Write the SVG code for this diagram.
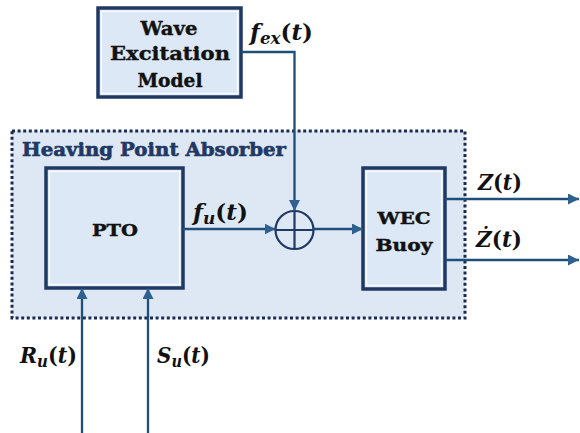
<svg xmlns="http://www.w3.org/2000/svg" width="580" height="433" viewBox="0 0 580 433">
<style>
.box{fill:#dce8f5;stroke:#1f3864;stroke-width:3.5}
.inner{fill:none;stroke:#ffffff;stroke-width:1.2}
.lbl{font-family:"DejaVu Serif",serif;font-weight:bold;fill:#111;stroke:#111;stroke-width:0.4;text-anchor:middle}
.math{font-family:"DejaVu Serif",serif;font-weight:bold;font-size:22px;fill:#111}
.wire{fill:none;stroke:#1f4e79;stroke-width:2.3}
</style>
<defs>
<marker id="ah" viewBox="0 0 10 10" refX="10" refY="5" markerWidth="11" markerHeight="11" markerUnits="userSpaceOnUse" orient="auto">
<path d="M0,0 L10,5 L0,10 z" fill="#2e6090"/>
</marker>
</defs>
<rect width="580" height="433" fill="#ffffff"/>
<g id="absorber">
<rect x="12" y="131" width="453" height="187" fill="#dde8f4" stroke="#1a2a55" stroke-width="3" stroke-dasharray="3 2.6"/>
<text x="22" y="156" font-family="DejaVu Serif,serif" font-weight="bold" font-size="18" fill="#1f3864" stroke="#1f3864" stroke-width="0.6" textLength="264" lengthAdjust="spacingAndGlyphs">Heaving Point Absorber</text>
</g>
<g id="wave">
<rect class="box" x="98" y="8" width="143" height="89"/>
<rect class="inner" x="101.5" y="11.5" width="136" height="82"/>
<text class="lbl" x="169" y="35" font-size="18" textLength="57" lengthAdjust="spacingAndGlyphs">Wave</text>
<text class="lbl" x="170" y="60" font-size="18" textLength="120" lengthAdjust="spacingAndGlyphs">Excitation</text>
<text class="lbl" x="170" y="87" font-size="18" textLength="65" lengthAdjust="spacingAndGlyphs">Model</text>
</g>
<g id="pto">
<rect class="box" x="46" y="168" width="137" height="120"/>
<rect class="inner" x="49.5" y="171.5" width="130" height="113"/>
<text class="lbl" x="115" y="236" font-size="16" textLength="46" lengthAdjust="spacingAndGlyphs">PTO</text>
</g>
<g id="wec">
<rect class="box" x="363" y="168" width="82" height="121"/>
<rect class="inner" x="366.5" y="171.5" width="75" height="114"/>
<text class="lbl" x="404" y="224" font-size="16" textLength="53" lengthAdjust="spacingAndGlyphs">WEC</text>
<text class="lbl" x="404" y="251" font-size="16" textLength="57" lengthAdjust="spacingAndGlyphs">Buoy</text>
</g>
<g id="sum">
<circle cx="294.5" cy="230" r="19" fill="none" stroke="#1f3864" stroke-width="2.2"/>
<path d="M294.5,211 V249 M275.5,230 H313.5" stroke="#1f3864" stroke-width="2.2"/>
</g>
<g id="connectors">
<path class="wire" d="M241,52 H294.5 V211" marker-end="url(#ah)"/>
<path class="wire" d="M183,229 H275.5" marker-end="url(#ah)"/>
<path class="wire" d="M313.5,229 H363" marker-end="url(#ah)"/>
<path class="wire" d="M445,199 H579" marker-end="url(#ah)"/>
<path class="wire" d="M445,260 H579" marker-end="url(#ah)"/>
<path class="wire" d="M82,433 V288" marker-end="url(#ah)"/>
<path class="wire" d="M148,433 V288" marker-end="url(#ah)"/>
</g>
<g id="labels">
<text class="math" x="250" y="40" textLength="63" lengthAdjust="spacingAndGlyphs"><tspan font-style="italic">f</tspan><tspan font-style="italic" font-size="16" dy="4">ex</tspan><tspan dy="-4">(</tspan><tspan font-style="italic">t</tspan>)</text>
<text class="math" x="193" y="220" textLength="55" lengthAdjust="spacingAndGlyphs"><tspan font-style="italic">f</tspan><tspan font-style="italic" font-size="16" dy="4">u</tspan><tspan dy="-4">(</tspan><tspan font-style="italic">t</tspan>)</text>
<text class="math" x="478" y="190" textLength="44" lengthAdjust="spacingAndGlyphs"><tspan font-style="italic">Z</tspan>(<tspan font-style="italic">t</tspan>)</text>
<text class="math" x="476" y="247" textLength="46" lengthAdjust="spacingAndGlyphs"><tspan font-style="italic">Ż</tspan>(<tspan font-style="italic">t</tspan>)</text>
<text class="math" x="20" y="363" textLength="57" lengthAdjust="spacingAndGlyphs"><tspan font-style="italic">R</tspan><tspan font-style="italic" font-size="16" dy="4">u</tspan><tspan dy="-4">(</tspan><tspan font-style="italic">t</tspan>)</text>
<text class="math" x="157" y="363" textLength="53" lengthAdjust="spacingAndGlyphs"><tspan font-style="italic">S</tspan><tspan font-style="italic" font-size="16" dy="4">u</tspan><tspan dy="-4">(</tspan><tspan font-style="italic">t</tspan>)</text>
</g>
</svg>
